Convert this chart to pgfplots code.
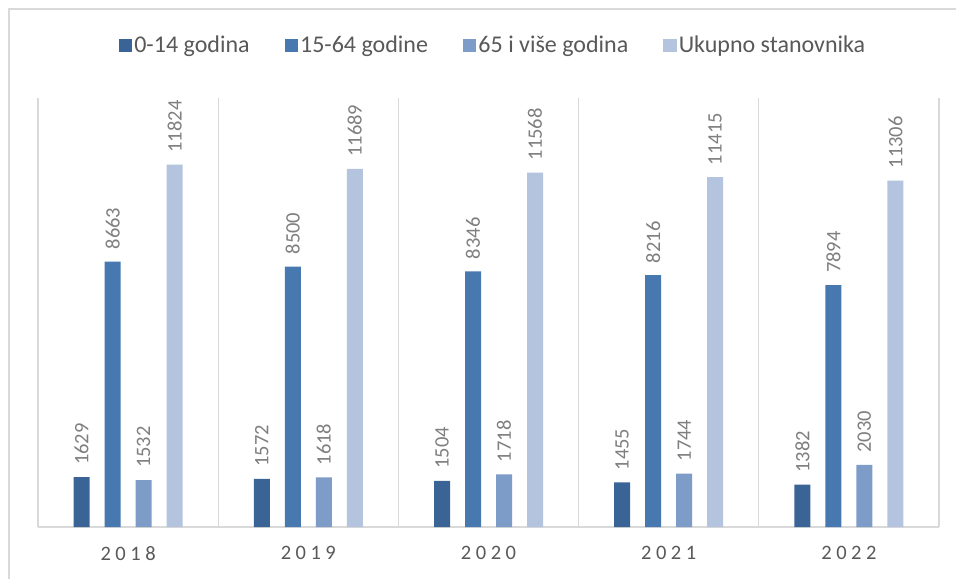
\documentclass[border=0pt]{standalone}
\usepackage{fontspec}
\setmainfont{Carlito}
\newfontfamily\yearfont[LetterSpace=22]{Carlito}
\usepackage{pgfplots}
\pgfplotsset{compat=1.18}
\definecolor{cA}{HTML}{3B6496}
\definecolor{cB}{HTML}{4878B0}
\definecolor{cC}{HTML}{7E9CC8}
\definecolor{cD}{HTML}{B4C4DF}
\definecolor{gridc}{HTML}{D9D9D9}
\definecolor{txt}{HTML}{595959}
\definecolor{vtxt}{HTML}{7F7F7F}
\begin{document}
\begin{tikzpicture}
\useasboundingbox (0pt,0pt) rectangle (956pt,579pt);
\fill[white] (0pt,0pt) rectangle (956pt,579pt);
\draw[gridc, line width=1.5pt] (9pt,0pt) -- (9pt,570pt) -- (956pt,570pt);
\begin{axis}[
  at={(38pt,52pt)}, anchor=south west,
  scale only axis, width=901pt, height=429pt,
  ybar=15pt, bar width=16pt,
  xmin=-0.5, xmax=4.5, ymin=0, ymax=14000,
  axis y line=none, axis x line*=bottom,
  axis line style={gridc, line width=1.5pt, -},
  xtick={0,1,2,3,4},
  xticklabels={2018,2019,2020,2021,2022},
  major tick length=0pt, minor tick length=0pt,
  minor xtick={-0.5,0.5,1.5,2.5,3.5,4.5},
  xminorgrids, minor grid style={gridc, line width=1.2pt},
  xticklabel style={font=\yearfont\fontsize{20.5}{24}\selectfont, text=txt, yshift=-16pt},
  /pgf/number format/.cd, 1000 sep={}, assume math mode=true, /pgfplots/.cd,
  nodes near coords,
  every node near coord/.append style={rotate=90, anchor=west, font=\fontsize{20.5}{24}\selectfont, text=vtxt, inner xsep=12pt},
  legend columns=4,
  legend style={draw=none, fill=none, at={(0.505,1.1235)}, anchor=center,
    font=\fontsize{24}{28}\selectfont, text=txt,
    /tikz/every even column/.append style={column sep=33pt}},
  legend image code/.code={\fill[#1,draw=none] (0pt,-6.5pt) rectangle (13.5pt,6.5pt);},
]
\addplot[fill=cA, draw=none] coordinates {(0,1629) (1,1572) (2,1504) (3,1455) (4,1382)};
\addplot[fill=cB, draw=none] coordinates {(0,8663) (1,8500) (2,8346) (3,8216) (4,7894)};
\addplot[fill=cC, draw=none] coordinates {(0,1532) (1,1618) (2,1718) (3,1744) (4,2030)};
\addplot[fill=cD, draw=none] coordinates {(0,11824) (1,11689) (2,11568) (3,11415) (4,11306)};
\legend{0-14 godina, 15-64 godine, 65 i više godina, Ukupno stanovnika}
\end{axis}
\end{tikzpicture}
\end{document}
